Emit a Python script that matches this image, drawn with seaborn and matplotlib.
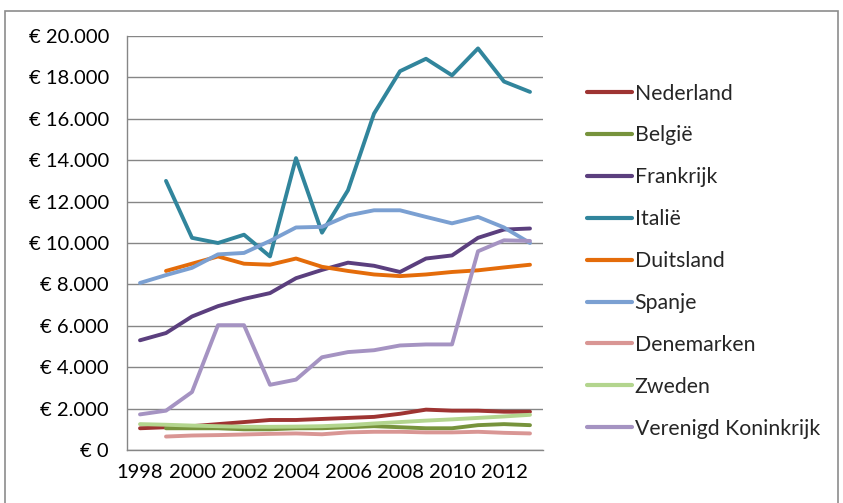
import matplotlib
matplotlib.use("Agg")
import matplotlib.pyplot as plt
import matplotlib.patches as patches
import numpy as np
import pandas as pd
import seaborn as sns

years = list(range(1998, 2014))
nan = np.nan

nederland = [1050, 1100, 1150, 1250, 1350, 1450, 1450, 1500, 1550, 1600, 1750, 1950, 1900, 1900, 1850, 1850]
belgie = [nan, 1050, 1050, 1050, 1000, 1000, 1050, 1050, 1100, 1150, 1100, 1050, 1050, 1200, 1250, 1200]
frankrijk = [5300, 5650, 6450, 6950, 7300, 7580, 8300, 8700, 9050, 8900, 8600, 9250, 9400, 10250, 10650, 10700]
italie = [nan, 13000, 10250, 10000, 10400, 9350, 14100, 10500, 12550, 16250, 18300, 18900, 18100, 19400, 17800, 17300]
duitsland = [nan, 8650, 9000, 9350, 9000, 8950, 9250, 8850, 8650, 8480, 8400, 8480, 8600, 8680, 8820, 8950]
spanje = [8070, 8450, 8800, 9450, 9520, 10100, 10750, 10780, 11330, 11580, 11580, 11260, 10950, 11260, 10750, 10000]
denemarken = [nan, 650, 700, 720, 750, 780, 800, 760, 850, 880, 880, 850, 850, 880, 830, 800]
zweden = [1250, 1220, 1180, 1150, 1120, 1120, 1130, 1150, 1200, 1280, 1350, 1420, 1480, 1550, 1620, 1700]
vk = [1720, 1900, 2800, 6030, 6030, 3150, 3400, 4480, 4730, 4820, 5050, 5100, 5100, 9600, 10130, 10100]

countries = ["Nederland", "België", "Frankrijk", "Italië", "Duitsland", "Spanje",
             "Denemarken", "Zweden", "Verenigd Koninkrijk"]
series = [nederland, belgie, frankrijk, italie, duitsland, spanje, denemarken, zweden, vk]
colors = ["#9E3432", "#77933C", "#5B3F7E", "#31859C", "#E46C0A", "#7BA0D2",
          "#D99694", "#B3D58E", "#A593C2"]

yticks = list(range(0, 20001, 2000))
xlabels = [str(y) for y in range(1998, 2013, 2)]

rows = []
for name, vals in zip(countries, series):
    for y, v in zip(years, vals):
        rows.append({"Jaar": y, "Waarde": v, "Land": name})
df = pd.DataFrame(rows).dropna()

sns.set_style("white")
plt.rcParams['font.family'] = ['Lato', 'DejaVu Sans']

W, H = 843, 503
fig = plt.figure(figsize=(W / 100, H / 100), dpi=100)
ax = fig.add_axes([127 / W, (H - 450) / H, 416 / W, 414 / H])

sns.lineplot(data=df, x="Jaar", y="Waarde", hue="Land", hue_order=countries,
             palette=dict(zip(countries, colors)), linewidth=2.8, ax=ax,
             estimator=None, sort=True)

ax.set_xlim(1997.5, 2013.5)
ax.set_ylim(0, 20000)
ax.set_yticks(yticks)
ax.set_yticklabels(["€ " + f"{v:,}".replace(",", ".") if v else "€ 0" for v in yticks])
ax.set_xticks(range(1998, 2013, 2))
ax.set_xticklabels(xlabels)
ax.set_xticks(np.arange(1997.5, 2014, 1), minor=True)
ax.tick_params(axis="x", which="major", length=0, pad=10, labelsize=14.5, colors="#000000")
ax.tick_params(axis="x", which="minor", length=8, width=1, color="#868686", direction="out")
ax.tick_params(axis="y", which="major", length=7, width=1, color="#868686", pad=6,
               labelsize=14.5, labelcolor="#000000")
ax.set_xlabel("")
ax.set_ylabel("")
ax.grid(axis="y", color="#868686", linewidth=1.0)
ax.set_axisbelow(True)
for s in ["top", "right"]:
    ax.spines[s].set_visible(False)
for s in ["left", "bottom"]:
    ax.spines[s].set_color("#868686")
    ax.spines[s].set_linewidth(1.0)

handles, labels = ax.get_legend_handles_labels()
leg = ax.legend(handles, labels, loc="upper left",
                bbox_to_anchor=(578 / W, 1 - 75 / H), bbox_transform=fig.transFigure,
                frameon=False, fontsize=15.3, handlelength=2.15, handletextpad=0.12,
                labelspacing=1.03, borderaxespad=0)
for line in leg.get_lines():
    line.set_linewidth(3.0)

fig.patches.append(patches.Rectangle((5 / W, -0.01), 833 / W, 1 - 11 / H + 0.01,
                                     transform=fig.transFigure, fill=False,
                                     edgecolor="#8c8c8c", linewidth=1.2))

fig.savefig("out.png", dpi=100, facecolor="white")
